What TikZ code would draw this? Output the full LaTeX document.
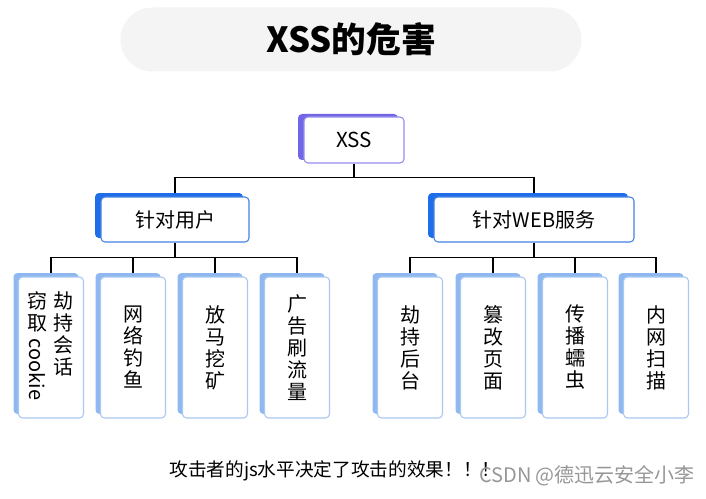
\documentclass[tikz,border=0pt]{standalone}
\usepackage{fontspec}
\setmainfont{Noto Sans CJK SC}
\usetikzlibrary{shadows,backgrounds}
\definecolor{titlegray}{RGB}{244,244,244}
\definecolor{xsspurple}{RGB}{115,102,230}
\definecolor{xssline}{RGB}{150,142,236}
\definecolor{midblue}{RGB}{29,110,232}
\definecolor{midline}{RGB}{70,130,225}
\definecolor{leafblue}{RGB}{143,184,240}
\definecolor{leafline}{RGB}{170,200,242}
\definecolor{markgray}{RGB}{150,150,150}
\tikzset{
  box/.style={draw, fill=white, rounded corners=3pt, line width=0.8pt, inner sep=0pt},
  rootbox/.style={box, draw=xssline, minimum width=75pt, minimum height=34.5pt,
    font=\fontsize{15.5}{18}\selectfont,
    drop shadow={shadow xshift=-4.5pt, shadow yshift=2.25pt, fill=xsspurple, opacity=1}},
  midbox/.style={box, draw=midline, minimum height=33.75pt,
    font=\fontsize{15}{18}\selectfont,
    drop shadow={shadow xshift=-4.5pt, shadow yshift=3pt, fill=midblue, opacity=1}},
  leafbox/.style={box, draw=leafline, minimum width=48.75pt, minimum height=105.75pt,
    align=center, font=\fontsize{15}{16.5}\selectfont,
    drop shadow={shadow xshift=-3.75pt, shadow yshift=3pt, fill=leafblue, opacity=1}},
  vtext/.style={align=center, inner sep=0pt, font=\fontsize{15}{16.5}\selectfont},
  conn/.style={line width=0.9pt}
}
\begin{document}
\begin{tikzpicture}[x=0.75pt,y=-0.75pt]
\useasboundingbox (0,0) rectangle (706,499);
% title bar
\node[fill=titlegray, rounded corners=24pt, minimum width=345.75pt, minimum height=48pt,
  font=\fontsize{26}{30}\selectfont] (title) at (351,39.5) {\textbf{XSS的危害}};
% tree
\node[rootbox] (xss) at (354,140) {XSS};
\node[midbox, minimum width=111pt] (user) at (175,219.5) {针对用户};
\node[midbox, minimum width=150pt] (web) at (534,219.5) {针对WEB服务};
\node[leafbox] (u1) at (51,347.5) {};
\node[vtext, anchor=north] (u1a) at ([xshift=-10.5pt, yshift=-11pt]u1.north) {窃\\取\\[-10pt]\rotatebox{-90}{cookie}};
\node[vtext, anchor=north] (u1b) at ([xshift=9pt, yshift=-11pt]u1.north) {劫\\持\\会\\话};
\foreach \n/\x/\t in {u2/133/{网\\络\\钓\\鱼}, u3/215/{放\\马\\挖\\矿}, u4/297/{广\\告\\刷\\流\\量},
    w1/410/{劫\\持\\后\\台}, w2/493/{篡\\改\\页\\面}, w3/575/{传\\播\\蠕\\虫}, w4/656/{内\\网\\扫\\描}}
  \node[leafbox] (\n) at (\x,347.5) {\t};
% connectors
\begin{scope}[on background layer]
  \draw[conn] (xss.south) -- ++(0,14) -| (user.north);
  \draw[conn] (xss.south) -- ++(0,14) -| (web.north);
  \foreach \b in {u1,u2,u3,u4}
    \draw[conn] (user.south) -- ++(0,15) -| (\b.north);
  \foreach \b in {w1,w2,w3,w4}
    \draw[conn] (web.south) -- ++(0,15) -| (\b.north);
\end{scope}
% notes
\node[font=\fontsize{14}{16}\selectfont] (note) at (335,471) {攻击者的js水平决定了攻击的效果！！！};
\node[text=markgray, font=\fontsize{15}{18}\selectfont] (mark) at (587,476) {CSDN @德迅云安全小李};
\end{tikzpicture}
\end{document}
